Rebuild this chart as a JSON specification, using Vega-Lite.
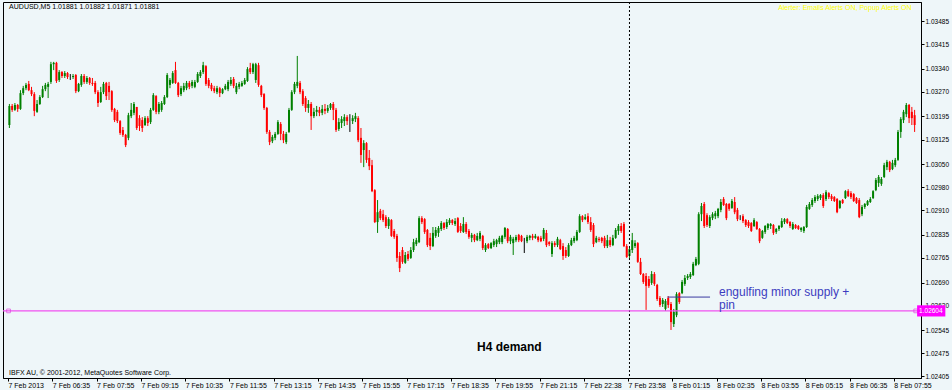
{
"$schema":"https://vega.github.io/schema/vega-lite/v6.json",
"width":918,"height":376,
"autosize":{"type":"none"},
"padding":{"left":3,"top":2,"right":31,"bottom":12},
"background":"#eef6f9",
"config":{"view":{"stroke":"#000000","strokeWidth":1,"fill":"#eef6f9"},"font":"Liberation Sans","axis":{"labelOverlap":false,"labelBound":false,"labelFlush":false,"grid":false,"title":null}},
"data":{"values":[
{"t":0,"o":1.03169,"h":1.03233,"l":1.03160,"c":1.03227},
{"t":1,"o":1.03227,"h":1.03233,"l":1.03209,"c":1.03215},
{"t":2,"o":1.03215,"h":1.03236,"l":1.03212,"c":1.03230},
{"t":3,"o":1.03230,"h":1.03233,"l":1.03209,"c":1.03218},
{"t":4,"o":1.03218,"h":1.03275,"l":1.03215,"c":1.03266},
{"t":5,"o":1.03266,"h":1.03288,"l":1.03260,"c":1.03281},
{"t":6,"o":1.03281,"h":1.03297,"l":1.03275,"c":1.03291},
{"t":7,"o":1.03294,"h":1.03303,"l":1.03272,"c":1.03275},
{"t":8,"o":1.03275,"h":1.03285,"l":1.03257,"c":1.03263},
{"t":9,"o":1.03263,"h":1.03269,"l":1.03196,"c":1.03212},
{"t":10,"o":1.03209,"h":1.03245,"l":1.03206,"c":1.03233},
{"t":11,"o":1.03233,"h":1.03260,"l":1.03230,"c":1.03254},
{"t":12,"o":1.03254,"h":1.03288,"l":1.03251,"c":1.03278},
{"t":13,"o":1.03278,"h":1.03297,"l":1.03272,"c":1.03291},
{"t":14,"o":1.03285,"h":1.03300,"l":1.03251,"c":1.03294},
{"t":15,"o":1.03300,"h":1.03361,"l":1.03294,"c":1.03354},
{"t":16,"o":1.03354,"h":1.03361,"l":1.03336,"c":1.03358},
{"t":17,"o":1.03358,"h":1.03361,"l":1.03297,"c":1.03303},
{"t":18,"o":1.03306,"h":1.03336,"l":1.03300,"c":1.03330},
{"t":19,"o":1.03330,"h":1.03333,"l":1.03312,"c":1.03318},
{"t":20,"o":1.03318,"h":1.03333,"l":1.03312,"c":1.03327},
{"t":21,"o":1.03327,"h":1.03330,"l":1.03309,"c":1.03315},
{"t":22,"o":1.03315,"h":1.03324,"l":1.03306,"c":1.03315},
{"t":23,"o":1.03315,"h":1.03324,"l":1.03309,"c":1.03318},
{"t":24,"o":1.03321,"h":1.03324,"l":1.03266,"c":1.03272},
{"t":25,"o":1.03272,"h":1.03297,"l":1.03269,"c":1.03294},
{"t":26,"o":1.03291,"h":1.03324,"l":1.03285,"c":1.03318},
{"t":27,"o":1.03318,"h":1.03324,"l":1.03294,"c":1.03300},
{"t":28,"o":1.03300,"h":1.03318,"l":1.03294,"c":1.03312},
{"t":29,"o":1.03312,"h":1.03315,"l":1.03291,"c":1.03297},
{"t":30,"o":1.03297,"h":1.03312,"l":1.03288,"c":1.03294},
{"t":31,"o":1.03297,"h":1.03303,"l":1.03263,"c":1.03269},
{"t":32,"o":1.03269,"h":1.03275,"l":1.03224,"c":1.03236},
{"t":33,"o":1.03239,"h":1.03285,"l":1.03236,"c":1.03269},
{"t":34,"o":1.03269,"h":1.03300,"l":1.03263,"c":1.03294},
{"t":35,"o":1.03297,"h":1.03300,"l":1.03245,"c":1.03257},
{"t":36,"o":1.03288,"h":1.03300,"l":1.03245,"c":1.03269},
{"t":37,"o":1.03272,"h":1.03275,"l":1.03209,"c":1.03215},
{"t":38,"o":1.03218,"h":1.03221,"l":1.03178,"c":1.03184},
{"t":39,"o":1.03209,"h":1.03215,"l":1.03175,"c":1.03181},
{"t":40,"o":1.03181,"h":1.03184,"l":1.03139,"c":1.03145},
{"t":41,"o":1.03154,"h":1.03163,"l":1.03133,"c":1.03139},
{"t":42,"o":1.03139,"h":1.03142,"l":1.03102,"c":1.03108},
{"t":43,"o":1.03130,"h":1.03206,"l":1.03123,"c":1.03199},
{"t":44,"o":1.03196,"h":1.03236,"l":1.03190,"c":1.03215},
{"t":45,"o":1.03206,"h":1.03239,"l":1.03199,"c":1.03233},
{"t":46,"o":1.03224,"h":1.03224,"l":1.03154,"c":1.03160},
{"t":47,"o":1.03190,"h":1.03199,"l":1.03151,"c":1.03166},
{"t":48,"o":1.03184,"h":1.03193,"l":1.03148,"c":1.03160},
{"t":49,"o":1.03169,"h":1.03196,"l":1.03166,"c":1.03190},
{"t":50,"o":1.03190,"h":1.03196,"l":1.03166,"c":1.03175},
{"t":51,"o":1.03178,"h":1.03221,"l":1.03172,"c":1.03215},
{"t":52,"o":1.03215,"h":1.03266,"l":1.03212,"c":1.03260},
{"t":53,"o":1.03257,"h":1.03260,"l":1.03202,"c":1.03209},
{"t":54,"o":1.03209,"h":1.03239,"l":1.03202,"c":1.03233},
{"t":55,"o":1.03215,"h":1.03242,"l":1.03209,"c":1.03236},
{"t":56,"o":1.03233,"h":1.03260,"l":1.03230,"c":1.03254},
{"t":57,"o":1.03254,"h":1.03327,"l":1.03251,"c":1.03321},
{"t":58,"o":1.03291,"h":1.03312,"l":1.03281,"c":1.03306},
{"t":59,"o":1.03297,"h":1.03333,"l":1.03294,"c":1.03327},
{"t":60,"o":1.03336,"h":1.03361,"l":1.03294,"c":1.03297},
{"t":61,"o":1.03297,"h":1.03300,"l":1.03254,"c":1.03260},
{"t":62,"o":1.03263,"h":1.03288,"l":1.03257,"c":1.03281},
{"t":63,"o":1.03275,"h":1.03297,"l":1.03269,"c":1.03288},
{"t":64,"o":1.03281,"h":1.03303,"l":1.03275,"c":1.03297},
{"t":65,"o":1.03297,"h":1.03303,"l":1.03278,"c":1.03285},
{"t":66,"o":1.03288,"h":1.03306,"l":1.03281,"c":1.03300},
{"t":67,"o":1.03285,"h":1.03306,"l":1.03281,"c":1.03300},
{"t":68,"o":1.03300,"h":1.03330,"l":1.03297,"c":1.03324},
{"t":69,"o":1.03318,"h":1.03336,"l":1.03312,"c":1.03330},
{"t":70,"o":1.03330,"h":1.03361,"l":1.03324,"c":1.03351},
{"t":71,"o":1.03348,"h":1.03351,"l":1.03288,"c":1.03294},
{"t":72,"o":1.03306,"h":1.03312,"l":1.03281,"c":1.03288},
{"t":73,"o":1.03291,"h":1.03297,"l":1.03272,"c":1.03278},
{"t":74,"o":1.03281,"h":1.03288,"l":1.03266,"c":1.03272},
{"t":75,"o":1.03269,"h":1.03288,"l":1.03263,"c":1.03281},
{"t":76,"o":1.03281,"h":1.03285,"l":1.03254,"c":1.03266},
{"t":77,"o":1.03266,"h":1.03281,"l":1.03263,"c":1.03278},
{"t":78,"o":1.03278,"h":1.03294,"l":1.03275,"c":1.03288},
{"t":79,"o":1.03278,"h":1.03306,"l":1.03272,"c":1.03300},
{"t":80,"o":1.03294,"h":1.03315,"l":1.03288,"c":1.03306},
{"t":81,"o":1.03309,"h":1.03315,"l":1.03281,"c":1.03288},
{"t":82,"o":1.03269,"h":1.03297,"l":1.03263,"c":1.03288},
{"t":83,"o":1.03285,"h":1.03300,"l":1.03278,"c":1.03294},
{"t":84,"o":1.03288,"h":1.03303,"l":1.03285,"c":1.03297},
{"t":85,"o":1.03294,"h":1.03312,"l":1.03291,"c":1.03306},
{"t":86,"o":1.03303,"h":1.03345,"l":1.03300,"c":1.03339},
{"t":87,"o":1.03342,"h":1.03358,"l":1.03324,"c":1.03330},
{"t":88,"o":1.03330,"h":1.03358,"l":1.03324,"c":1.03354},
{"t":89,"o":1.03306,"h":1.03358,"l":1.03297,"c":1.03354},
{"t":90,"o":1.03351,"h":1.03358,"l":1.03285,"c":1.03291},
{"t":91,"o":1.03288,"h":1.03291,"l":1.03254,"c":1.03260},
{"t":92,"o":1.03263,"h":1.03266,"l":1.03215,"c":1.03221},
{"t":93,"o":1.03221,"h":1.03224,"l":1.03142,"c":1.03148},
{"t":94,"o":1.03148,"h":1.03154,"l":1.03108,"c":1.03117},
{"t":95,"o":1.03120,"h":1.03139,"l":1.03114,"c":1.03133},
{"t":96,"o":1.03130,"h":1.03148,"l":1.03123,"c":1.03142},
{"t":97,"o":1.03142,"h":1.03184,"l":1.03139,"c":1.03178},
{"t":98,"o":1.03172,"h":1.03178,"l":1.03123,"c":1.03142},
{"t":99,"o":1.03142,"h":1.03151,"l":1.03114,"c":1.03123},
{"t":100,"o":1.03117,"h":1.03148,"l":1.03111,"c":1.03142},
{"t":101,"o":1.03148,"h":1.03221,"l":1.03145,"c":1.03215},
{"t":102,"o":1.03215,"h":1.03275,"l":1.03212,"c":1.03269},
{"t":103,"o":1.03269,"h":1.03300,"l":1.03263,"c":1.03294},
{"t":104,"o":1.03288,"h":1.03379,"l":1.03281,"c":1.03300},
{"t":105,"o":1.03297,"h":1.03303,"l":1.03263,"c":1.03269},
{"t":106,"o":1.03272,"h":1.03278,"l":1.03227,"c":1.03233},
{"t":107,"o":1.03251,"h":1.03257,"l":1.03209,"c":1.03221},
{"t":108,"o":1.03221,"h":1.03245,"l":1.03206,"c":1.03233},
{"t":109,"o":1.03233,"h":1.03239,"l":1.03154,"c":1.03196},
{"t":110,"o":1.03196,"h":1.03221,"l":1.03190,"c":1.03209},
{"t":111,"o":1.03209,"h":1.03227,"l":1.03196,"c":1.03215},
{"t":112,"o":1.03215,"h":1.03224,"l":1.03196,"c":1.03206},
{"t":113,"o":1.03206,"h":1.03230,"l":1.03199,"c":1.03218},
{"t":114,"o":1.03218,"h":1.03233,"l":1.03202,"c":1.03212},
{"t":115,"o":1.03212,"h":1.03230,"l":1.03206,"c":1.03221},
{"t":116,"o":1.03221,"h":1.03236,"l":1.03215,"c":1.03233},
{"t":117,"o":1.03233,"h":1.03239,"l":1.03184,"c":1.03215},
{"t":118,"o":1.03215,"h":1.03221,"l":1.03148,"c":1.03154},
{"t":119,"o":1.03157,"h":1.03190,"l":1.03151,"c":1.03178},
{"t":120,"o":1.03175,"h":1.03196,"l":1.03160,"c":1.03187},
{"t":121,"o":1.03181,"h":1.03202,"l":1.03166,"c":1.03193},
{"t":122,"o":1.03193,"h":1.03199,"l":1.03169,"c":1.03181},
{"t":123,"o":1.03184,"h":1.03202,"l":1.03148,"c":1.03184},
{"t":124,"o":1.03181,"h":1.03199,"l":1.03172,"c":1.03190},
{"t":125,"o":1.03187,"h":1.03206,"l":1.03178,"c":1.03196},
{"t":126,"o":1.03190,"h":1.03196,"l":1.03117,"c":1.03123},
{"t":127,"o":1.03130,"h":1.03160,"l":1.03054,"c":1.03078},
{"t":128,"o":1.03093,"h":1.03123,"l":1.03041,"c":1.03114},
{"t":129,"o":1.03114,"h":1.03117,"l":1.03054,"c":1.03063},
{"t":130,"o":1.03069,"h":1.03093,"l":1.03032,"c":1.03044},
{"t":131,"o":1.03047,"h":1.03063,"l":1.02965,"c":1.02968},
{"t":132,"o":1.02971,"h":1.02974,"l":1.02871,"c":1.02874},
{"t":133,"o":1.02874,"h":1.02941,"l":1.02841,"c":1.02904},
{"t":134,"o":1.02908,"h":1.02914,"l":1.02880,"c":1.02886},
{"t":135,"o":1.02898,"h":1.02911,"l":1.02874,"c":1.02880},
{"t":136,"o":1.02889,"h":1.02895,"l":1.02856,"c":1.02862},
{"t":137,"o":1.02862,"h":1.02889,"l":1.02853,"c":1.02883},
{"t":138,"o":1.02880,"h":1.02883,"l":1.02829,"c":1.02832},
{"t":139,"o":1.02847,"h":1.02853,"l":1.02823,"c":1.02829},
{"t":140,"o":1.02832,"h":1.02838,"l":1.02753,"c":1.02765},
{"t":141,"o":1.02771,"h":1.02783,"l":1.02722,"c":1.02734},
{"t":142,"o":1.02789,"h":1.02798,"l":1.02747,"c":1.02753},
{"t":143,"o":1.02750,"h":1.02783,"l":1.02747,"c":1.02774},
{"t":144,"o":1.02777,"h":1.02786,"l":1.02756,"c":1.02762},
{"t":145,"o":1.02765,"h":1.02798,"l":1.02762,"c":1.02789},
{"t":146,"o":1.02789,"h":1.02823,"l":1.02783,"c":1.02813},
{"t":147,"o":1.02807,"h":1.02826,"l":1.02801,"c":1.02819},
{"t":148,"o":1.02813,"h":1.02892,"l":1.02810,"c":1.02886},
{"t":149,"o":1.02886,"h":1.02892,"l":1.02868,"c":1.02874},
{"t":150,"o":1.02883,"h":1.02886,"l":1.02838,"c":1.02844},
{"t":151,"o":1.02850,"h":1.02853,"l":1.02798,"c":1.02804},
{"t":152,"o":1.02826,"h":1.02841,"l":1.02789,"c":1.02801},
{"t":153,"o":1.02801,"h":1.02859,"l":1.02798,"c":1.02841},
{"t":154,"o":1.02832,"h":1.02859,"l":1.02826,"c":1.02850},
{"t":155,"o":1.02841,"h":1.02862,"l":1.02829,"c":1.02856},
{"t":156,"o":1.02853,"h":1.02877,"l":1.02847,"c":1.02871},
{"t":157,"o":1.02871,"h":1.02874,"l":1.02850,"c":1.02856},
{"t":158,"o":1.02859,"h":1.02883,"l":1.02853,"c":1.02874},
{"t":159,"o":1.02871,"h":1.02886,"l":1.02865,"c":1.02880},
{"t":160,"o":1.02880,"h":1.02883,"l":1.02865,"c":1.02871},
{"t":161,"o":1.02868,"h":1.02886,"l":1.02862,"c":1.02877},
{"t":162,"o":1.02886,"h":1.02889,"l":1.02841,"c":1.02844},
{"t":163,"o":1.02862,"h":1.02871,"l":1.02841,"c":1.02847},
{"t":164,"o":1.02844,"h":1.02889,"l":1.02841,"c":1.02868},
{"t":165,"o":1.02868,"h":1.02874,"l":1.02838,"c":1.02844},
{"t":166,"o":1.02847,"h":1.02853,"l":1.02823,"c":1.02829},
{"t":167,"o":1.02826,"h":1.02841,"l":1.02813,"c":1.02835},
{"t":168,"o":1.02835,"h":1.02838,"l":1.02813,"c":1.02819},
{"t":169,"o":1.02819,"h":1.02841,"l":1.02816,"c":1.02832},
{"t":170,"o":1.02823,"h":1.02847,"l":1.02816,"c":1.02841},
{"t":171,"o":1.02832,"h":1.02835,"l":1.02789,"c":1.02795},
{"t":172,"o":1.02789,"h":1.02810,"l":1.02783,"c":1.02804},
{"t":173,"o":1.02807,"h":1.02810,"l":1.02792,"c":1.02795},
{"t":174,"o":1.02795,"h":1.02813,"l":1.02792,"c":1.02810},
{"t":175,"o":1.02804,"h":1.02823,"l":1.02798,"c":1.02816},
{"t":176,"o":1.02807,"h":1.02823,"l":1.02798,"c":1.02819},
{"t":177,"o":1.02813,"h":1.02832,"l":1.02807,"c":1.02826},
{"t":178,"o":1.02813,"h":1.02835,"l":1.02807,"c":1.02832},
{"t":179,"o":1.02829,"h":1.02859,"l":1.02823,"c":1.02856},
{"t":180,"o":1.02853,"h":1.02856,"l":1.02810,"c":1.02816},
{"t":181,"o":1.02816,"h":1.02835,"l":1.02807,"c":1.02829},
{"t":182,"o":1.02810,"h":1.02829,"l":1.02774,"c":1.02823},
{"t":183,"o":1.02819,"h":1.02835,"l":1.02813,"c":1.02829},
{"t":184,"o":1.02835,"h":1.02838,"l":1.02813,"c":1.02819},
{"t":185,"o":1.02832,"h":1.02835,"l":1.02813,"c":1.02816},
{"t":186,"o":1.02813,"h":1.02826,"l":1.02780,"c":1.02813},
{"t":187,"o":1.02816,"h":1.02835,"l":1.02810,"c":1.02829},
{"t":188,"o":1.02826,"h":1.02835,"l":1.02819,"c":1.02832},
{"t":189,"o":1.02832,"h":1.02838,"l":1.02819,"c":1.02826},
{"t":190,"o":1.02826,"h":1.02838,"l":1.02823,"c":1.02832},
{"t":191,"o":1.02829,"h":1.02832,"l":1.02813,"c":1.02819},
{"t":192,"o":1.02826,"h":1.02832,"l":1.02813,"c":1.02816},
{"t":193,"o":1.02823,"h":1.02856,"l":1.02816,"c":1.02850},
{"t":194,"o":1.02841,"h":1.02850,"l":1.02798,"c":1.02804},
{"t":195,"o":1.02813,"h":1.02816,"l":1.02801,"c":1.02807},
{"t":196,"o":1.02777,"h":1.02816,"l":1.02768,"c":1.02810},
{"t":197,"o":1.02810,"h":1.02816,"l":1.02798,"c":1.02804},
{"t":198,"o":1.02804,"h":1.02829,"l":1.02798,"c":1.02823},
{"t":199,"o":1.02819,"h":1.02823,"l":1.02789,"c":1.02792},
{"t":200,"o":1.02801,"h":1.02810,"l":1.02759,"c":1.02771},
{"t":201,"o":1.02789,"h":1.02798,"l":1.02765,"c":1.02771},
{"t":202,"o":1.02771,"h":1.02810,"l":1.02768,"c":1.02804},
{"t":203,"o":1.02804,"h":1.02826,"l":1.02801,"c":1.02819},
{"t":204,"o":1.02816,"h":1.02832,"l":1.02810,"c":1.02826},
{"t":205,"o":1.02819,"h":1.02850,"l":1.02816,"c":1.02844},
{"t":206,"o":1.02844,"h":1.02898,"l":1.02841,"c":1.02892},
{"t":207,"o":1.02892,"h":1.02895,"l":1.02874,"c":1.02880},
{"t":208,"o":1.02883,"h":1.02898,"l":1.02880,"c":1.02889},
{"t":209,"o":1.02892,"h":1.02901,"l":1.02868,"c":1.02874},
{"t":210,"o":1.02874,"h":1.02889,"l":1.02844,"c":1.02850},
{"t":211,"o":1.02865,"h":1.02871,"l":1.02798,"c":1.02807},
{"t":212,"o":1.02813,"h":1.02832,"l":1.02810,"c":1.02826},
{"t":213,"o":1.02823,"h":1.02829,"l":1.02813,"c":1.02819},
{"t":214,"o":1.02826,"h":1.02829,"l":1.02810,"c":1.02816},
{"t":215,"o":1.02826,"h":1.02832,"l":1.02795,"c":1.02801},
{"t":216,"o":1.02801,"h":1.02835,"l":1.02795,"c":1.02819},
{"t":217,"o":1.02819,"h":1.02829,"l":1.02798,"c":1.02804},
{"t":218,"o":1.02804,"h":1.02835,"l":1.02801,"c":1.02826},
{"t":219,"o":1.02826,"h":1.02856,"l":1.02823,"c":1.02850},
{"t":220,"o":1.02847,"h":1.02868,"l":1.02835,"c":1.02862},
{"t":221,"o":1.02862,"h":1.02871,"l":1.02841,"c":1.02847},
{"t":222,"o":1.02868,"h":1.02874,"l":1.02798,"c":1.02801},
{"t":223,"o":1.02801,"h":1.02807,"l":1.02765,"c":1.02768},
{"t":224,"o":1.02771,"h":1.02798,"l":1.02765,"c":1.02792},
{"t":225,"o":1.02789,"h":1.02841,"l":1.02780,"c":1.02819},
{"t":226,"o":1.02801,"h":1.02819,"l":1.02795,"c":1.02810},
{"t":227,"o":1.02810,"h":1.02813,"l":1.02750,"c":1.02753},
{"t":228,"o":1.02753,"h":1.02765,"l":1.02713,"c":1.02716},
{"t":229,"o":1.02716,"h":1.02719,"l":1.02686,"c":1.02692},
{"t":230,"o":1.02710,"h":1.02719,"l":1.02607,"c":1.02680},
{"t":231,"o":1.02701,"h":1.02710,"l":1.02674,"c":1.02680},
{"t":232,"o":1.02689,"h":1.02725,"l":1.02683,"c":1.02716},
{"t":233,"o":1.02716,"h":1.02722,"l":1.02680,"c":1.02686},
{"t":234,"o":1.02683,"h":1.02686,"l":1.02634,"c":1.02640},
{"t":235,"o":1.02643,"h":1.02649,"l":1.02616,"c":1.02622},
{"t":236,"o":1.02625,"h":1.02643,"l":1.02616,"c":1.02637},
{"t":237,"o":1.02610,"h":1.02640,"l":1.02604,"c":1.02634},
{"t":238,"o":1.02643,"h":1.02649,"l":1.02613,"c":1.02622},
{"t":239,"o":1.02625,"h":1.02631,"l":1.02546,"c":1.02570},
{"t":240,"o":1.02564,"h":1.02610,"l":1.02555,"c":1.02601},
{"t":241,"o":1.02591,"h":1.02661,"l":1.02585,"c":1.02655},
{"t":242,"o":1.02658,"h":1.02661,"l":1.02625,"c":1.02631},
{"t":243,"o":1.02658,"h":1.02698,"l":1.02655,"c":1.02692},
{"t":244,"o":1.02686,"h":1.02713,"l":1.02680,"c":1.02704},
{"t":245,"o":1.02704,"h":1.02716,"l":1.02698,"c":1.02710},
{"t":246,"o":1.02707,"h":1.02722,"l":1.02701,"c":1.02716},
{"t":247,"o":1.02713,"h":1.02753,"l":1.02710,"c":1.02747},
{"t":248,"o":1.02743,"h":1.02768,"l":1.02740,"c":1.02762},
{"t":249,"o":1.02747,"h":1.02904,"l":1.02743,"c":1.02898},
{"t":250,"o":1.02898,"h":1.02932,"l":1.02877,"c":1.02923},
{"t":251,"o":1.02929,"h":1.02935,"l":1.02856,"c":1.02862},
{"t":252,"o":1.02895,"h":1.02901,"l":1.02859,"c":1.02865},
{"t":253,"o":1.02862,"h":1.02895,"l":1.02856,"c":1.02889},
{"t":254,"o":1.02886,"h":1.02904,"l":1.02880,"c":1.02898},
{"t":255,"o":1.02892,"h":1.02908,"l":1.02883,"c":1.02901},
{"t":256,"o":1.02892,"h":1.02917,"l":1.02886,"c":1.02914},
{"t":257,"o":1.02911,"h":1.02944,"l":1.02904,"c":1.02935},
{"t":258,"o":1.02944,"h":1.02950,"l":1.02923,"c":1.02926},
{"t":259,"o":1.02929,"h":1.02932,"l":1.02880,"c":1.02886},
{"t":260,"o":1.02929,"h":1.02932,"l":1.02908,"c":1.02914},
{"t":261,"o":1.02917,"h":1.02944,"l":1.02914,"c":1.02938},
{"t":262,"o":1.02935,"h":1.02950,"l":1.02898,"c":1.02904},
{"t":263,"o":1.02911,"h":1.02917,"l":1.02877,"c":1.02883},
{"t":264,"o":1.02889,"h":1.02895,"l":1.02880,"c":1.02889},
{"t":265,"o":1.02892,"h":1.02898,"l":1.02871,"c":1.02877},
{"t":266,"o":1.02880,"h":1.02883,"l":1.02859,"c":1.02865},
{"t":267,"o":1.02874,"h":1.02880,"l":1.02856,"c":1.02862},
{"t":268,"o":1.02871,"h":1.02874,"l":1.02844,"c":1.02847},
{"t":269,"o":1.02862,"h":1.02886,"l":1.02859,"c":1.02880},
{"t":270,"o":1.02874,"h":1.02877,"l":1.02850,"c":1.02853},
{"t":271,"o":1.02853,"h":1.02856,"l":1.02810,"c":1.02816},
{"t":272,"o":1.02826,"h":1.02850,"l":1.02823,"c":1.02847},
{"t":273,"o":1.02844,"h":1.02865,"l":1.02838,"c":1.02862},
{"t":274,"o":1.02856,"h":1.02871,"l":1.02850,"c":1.02868},
{"t":275,"o":1.02862,"h":1.02871,"l":1.02853,"c":1.02868},
{"t":276,"o":1.02865,"h":1.02868,"l":1.02835,"c":1.02841},
{"t":277,"o":1.02844,"h":1.02856,"l":1.02838,"c":1.02853},
{"t":278,"o":1.02853,"h":1.02865,"l":1.02847,"c":1.02862},
{"t":279,"o":1.02859,"h":1.02886,"l":1.02856,"c":1.02877},
{"t":280,"o":1.02874,"h":1.02886,"l":1.02868,"c":1.02883},
{"t":281,"o":1.02883,"h":1.02886,"l":1.02868,"c":1.02871},
{"t":282,"o":1.02874,"h":1.02877,"l":1.02856,"c":1.02862},
{"t":283,"o":1.02853,"h":1.02874,"l":1.02850,"c":1.02868},
{"t":284,"o":1.02865,"h":1.02868,"l":1.02853,"c":1.02856},
{"t":285,"o":1.02862,"h":1.02865,"l":1.02850,"c":1.02853},
{"t":286,"o":1.02850,"h":1.02859,"l":1.02844,"c":1.02856},
{"t":287,"o":1.02847,"h":1.02862,"l":1.02841,"c":1.02859},
{"t":288,"o":1.02859,"h":1.02926,"l":1.02856,"c":1.02920},
{"t":289,"o":1.02914,"h":1.02935,"l":1.02911,"c":1.02929},
{"t":290,"o":1.02926,"h":1.02947,"l":1.02920,"c":1.02941},
{"t":291,"o":1.02938,"h":1.02956,"l":1.02932,"c":1.02950},
{"t":292,"o":1.02944,"h":1.02959,"l":1.02938,"c":1.02953},
{"t":293,"o":1.02947,"h":1.02959,"l":1.02941,"c":1.02956},
{"t":294,"o":1.02956,"h":1.02962,"l":1.02917,"c":1.02923},
{"t":295,"o":1.02944,"h":1.02971,"l":1.02938,"c":1.02965},
{"t":296,"o":1.02962,"h":1.02965,"l":1.02944,"c":1.02950},
{"t":297,"o":1.02953,"h":1.02959,"l":1.02938,"c":1.02944},
{"t":298,"o":1.02950,"h":1.02953,"l":1.02935,"c":1.02938},
{"t":299,"o":1.02944,"h":1.02947,"l":1.02901,"c":1.02904},
{"t":300,"o":1.02917,"h":1.02941,"l":1.02914,"c":1.02938},
{"t":301,"o":1.02941,"h":1.02944,"l":1.02929,"c":1.02932},
{"t":302,"o":1.02947,"h":1.02971,"l":1.02944,"c":1.02968},
{"t":303,"o":1.02968,"h":1.02974,"l":1.02950,"c":1.02953},
{"t":304,"o":1.02962,"h":1.02968,"l":1.02944,"c":1.02950},
{"t":305,"o":1.02959,"h":1.02962,"l":1.02935,"c":1.02938},
{"t":306,"o":1.02947,"h":1.02950,"l":1.02929,"c":1.02932},
{"t":307,"o":1.02941,"h":1.02947,"l":1.02886,"c":1.02889},
{"t":308,"o":1.02898,"h":1.02926,"l":1.02892,"c":1.02920},
{"t":309,"o":1.02920,"h":1.02932,"l":1.02914,"c":1.02929},
{"t":310,"o":1.02926,"h":1.02941,"l":1.02923,"c":1.02938},
{"t":311,"o":1.02935,"h":1.02950,"l":1.02932,"c":1.02944},
{"t":312,"o":1.02947,"h":1.02971,"l":1.02944,"c":1.02968},
{"t":313,"o":1.02971,"h":1.03008,"l":1.02968,"c":1.03002},
{"t":314,"o":1.02993,"h":1.03017,"l":1.02981,"c":1.03011},
{"t":315,"o":1.02990,"h":1.03011,"l":1.02984,"c":1.03005},
{"t":316,"o":1.03011,"h":1.03054,"l":1.03008,"c":1.03047},
{"t":317,"o":1.03041,"h":1.03063,"l":1.03032,"c":1.03057},
{"t":318,"o":1.03057,"h":1.03060,"l":1.03026,"c":1.03032},
{"t":319,"o":1.03035,"h":1.03063,"l":1.03032,"c":1.03054},
{"t":320,"o":1.03047,"h":1.03069,"l":1.03041,"c":1.03063},
{"t":321,"o":1.03063,"h":1.03154,"l":1.03060,"c":1.03148},
{"t":322,"o":1.03148,"h":1.03193,"l":1.03130,"c":1.03187},
{"t":323,"o":1.03184,"h":1.03215,"l":1.03175,"c":1.03209},
{"t":324,"o":1.03202,"h":1.03236,"l":1.03193,"c":1.03230},
{"t":325,"o":1.03230,"h":1.03233,"l":1.03175,"c":1.03190},
{"t":326,"o":1.03209,"h":1.03224,"l":1.03169,"c":1.03190},
{"t":327,"o":1.03199,"h":1.03215,"l":1.03148,"c":1.03169}
]},
"layer":[
{"mark":{"type":"rule","strokeWidth":1},
 "encoding":{
  "x":{"field":"t","type":"quantitative","scale":{"domain":[-0.5,327.5],"nice":false,"zero":false},
   "axis":{"title":null,"grid":false,"tickCount":40,"values":[-0.5,15.5,31.5,47.5,63.5,79.5,95.5,111.5,127.5,143.5,159.5,175.5,191.5,207.5,223.5,239.5,255.5,271.5,287.5,303.5,319.5],
    "labelExpr":"['7 Feb 2013','7 Feb 06:35','7 Feb 07:55','7 Feb 09:15','7 Feb 10:35','7 Feb 11:55','7 Feb 13:15','7 Feb 14:35','7 Feb 15:55','7 Feb 17:15','7 Feb 18:35','7 Feb 19:55','7 Feb 21:15','7 Feb 22:38','7 Feb 23:58','8 Feb 01:15','8 Feb 02:35','8 Feb 03:55','8 Feb 05:15','8 Feb 06:35','8 Feb 07:55'][round((datum.value+0.5)/16)]",
    "labelAlign":"left","labelFontSize":7,"labelColor":"#000000","labelFont":"Liberation Sans","tickColor":"#000000","domainColor":"#000000","tickSize":3,"labelPadding":0,"labelFlush":false,"labelOverlap":false,"labelBound":false}},
  "y":{"field":"l","type":"quantitative","scale":{"domain":[1.024,1.03543],"nice":false,"zero":false},
   "axis":{"orient":"right","title":null,"grid":false,"tickCount":30,"values":[1.02405,1.02475,1.02545,1.0262,1.0269,1.02765,1.02835,1.0291,1.0298,1.0305,1.03125,1.03195,1.0327,1.0334,1.03415,1.03485],
    "format":".5f","labelFontSize":6.5,"labelColor":"#000000","labelFont":"Liberation Sans","tickColor":"#000000","domainColor":"#000000","tickSize":3,"labelPadding":1,"labelOverlap":false,"labelBound":false,"labelFlush":false}},
  "y2":{"field":"h"},
  "color":{"condition":[{"test":"datum.c > datum.o","value":"#008000"},{"test":"datum.c < datum.o","value":"#ff0000"}],"value":"#000000"}
 }},
{"mark":{"type":"bar","size":2,"orient":"vertical"},
 "encoding":{
  "x":{"field":"t","type":"quantitative"},
  "y":{"field":"o","type":"quantitative"},
  "y2":{"field":"c"},
  "color":{"condition":[{"test":"datum.c > datum.o","value":"#008000"},{"test":"datum.c < datum.o","value":"#ff0000"}],"value":"#000000"}
 }},
{"data":{"values":[{}]},"mark":{"type":"rule","color":"#000000","strokeWidth":1,"strokeDash":[2,2]},"encoding":{"x":{"datum":224}}},
{"data":{"values":[{}]},"mark":{"type":"rule","color":"#f050f0","strokeWidth":1.2},"encoding":{"y":{"datum":1.02604}}},
{"data":{"values":[{}]},"mark":{"type":"point","shape":"square","size":14,"filled":false,"color":"#e040e0","strokeWidth":1},"encoding":{"x":{"datum":-0.3},"y":{"datum":1.02604}}},
{"data":{"values":[{}]},"mark":{"type":"point","shape":"square","size":14,"filled":false,"color":"#e040e0","strokeWidth":1},"encoding":{"x":{"datum":327.4},"y":{"datum":1.02604}}},
{"data":{"values":[{}]},"mark":{"type":"rect","color":"#ff00ff"},"encoding":{"x":{"datum":327.9},"x2":{"datum":338.1},"y":{"datum":1.02621},"y2":{"datum":1.02587}}},
{"data":{"values":[{}]},"mark":{"type":"text","text":"1.02604","align":"left","baseline":"middle","color":"#ffffff","fontSize":6.5,"font":"Liberation Sans","dx":2},"encoding":{"x":{"datum":327.9},"y":{"datum":1.02604}}},
{"data":{"values":[{}]},"mark":{"type":"rule","color":"#3a3aa0","strokeWidth":1},"encoding":{"x":{"datum":237.7},"x2":{"datum":253.1},"y":{"datum":1.02646}}},
{"data":{"values":[{}]},"mark":{"type":"text","text":"engulfing minor supply +","align":"left","baseline":"middle","color":"#3c3cc0","fontSize":12,"font":"Liberation Sans","dx":2},"encoding":{"x":{"datum":255.6},"y":{"datum":1.02661}}},
{"data":{"values":[{}]},"mark":{"type":"text","text":"pin","align":"left","baseline":"middle","color":"#3c3cc0","fontSize":12,"font":"Liberation Sans","dx":2},"encoding":{"x":{"datum":255.6},"y":{"datum":1.02622}}},
{"data":{"values":[{}]},"mark":{"type":"text","text":"H4 demand","align":"center","baseline":"middle","color":"#000000","fontSize":12,"fontWeight":"bold","font":"Liberation Sans"},"encoding":{"x":{"datum":180.6},"y":{"datum":1.02494}}},
{"data":{"values":[{}]},"mark":{"type":"text","text":"AUDUSD,M5  1.01881 1.01882 1.01871 1.01881","align":"left","baseline":"middle","color":"#000000","fontSize":7,"font":"Liberation Sans"},"encoding":{"x":{"datum":-0.1},"y":{"datum":1.03528}}},
{"data":{"values":[{}]},"mark":{"type":"text","text":"Alerter: Emails Alerts ON, Popup Alerts ON","align":"right","baseline":"middle","color":"#ffff00","fontSize":7,"font":"Liberation Sans"},"encoding":{"x":{"datum":325.9},"y":{"datum":1.03525}}},
{"data":{"values":[{}]},"mark":{"type":"text","text":"IBFX AU, © 2001-2012, MetaQuotes Software Corp.","align":"left","baseline":"middle","color":"#000000","fontSize":7,"font":"Liberation Sans"},"encoding":{"x":{"datum":-0.1},"y":{"datum":1.02415}}}
]
}
